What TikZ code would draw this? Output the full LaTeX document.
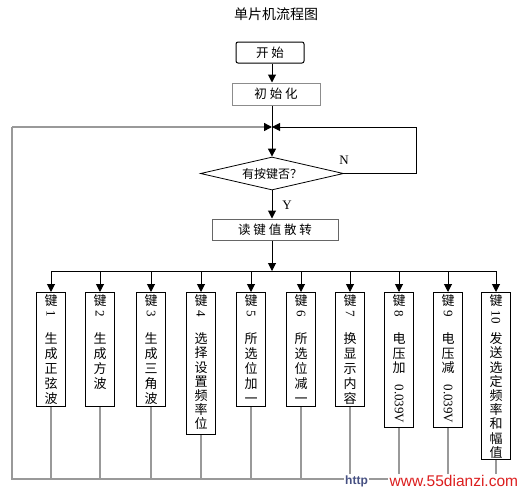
\documentclass[tikz,border=0pt]{standalone}
\usepackage{fontspec}
\usepackage{graphicx}
\setmainfont{Liberation Serif}
\newfontfamily\cjk{Noto Sans CJK SC}
\newfontfamily\wmfont{Liberation Sans}
\usetikzlibrary{arrows.meta,shapes.geometric}
\newcommand\rd[1]{\raisebox{7pt}{\rotatebox{-90}{\rmfamily\fontsize{13}{13}\selectfont #1}}}
\begin{document}
\lineskiplimit=-100pt
\begin{tikzpicture}[x=1pt,y=-1pt,
  ln/.style={line width=1pt, draw=black},
  gl/.style={line width=1.5pt, draw=black!40},
  arr/.style={-{Triangle[width=8pt,length=8pt,color=black]}},
  cbox/.style={draw, line width=1pt, inner sep=0pt, font=\cjk\fontsize{12.5}{12.5}\selectfont},
  kbox/.style={draw, line width=1pt, inner sep=0pt, minimum width=29pt},
  ktext/.style={anchor=north, inner sep=0pt, align=center},
  kf15/.style={font=\cjk\fontsize{13}{15}\selectfont},
  kf145/.style={font=\cjk\fontsize{13}{14.5}\selectfont},
  kf142/.style={font=\cjk\fontsize{13}{14.2}\selectfont},
  lab/.style={font=\rmfamily\fontsize{13}{13}\selectfont, inner sep=0pt}]
\useasboundingbox (0,0) rectangle (524,496);

\node[font=\cjk\fontsize{14}{14}\selectfont] (title) at (276,14) {单片机流程图};
\node[cbox, rounded corners=2pt, minimum width=68pt, minimum height=21pt] (start) at (270,52.5) {开\ 始};
\node[cbox, draw=black!45, minimum width=88pt, minimum height=22pt] (init) at (276,94) {初\ 始\ 化};
\coordinate (j) at (272,127);
\node[draw, line width=0.8pt, shape=diamond, aspect=4.3, minimum width=143pt, minimum height=33pt, inner sep=0pt,
      font=\cjk\fontsize{12}{12}\selectfont] (dec) at (272,173.5) {有按键否？};
\node[cbox, draw=black!60, minimum width=126pt, minimum height=21pt] (read) at (275,229.5) {读\ 键\ 值\ 散\ 转};
\coordinate (bm) at (272,271);
\coordinate (rc) at (416,127);
\coordinate (rd) at (416,173.5);
\coordinate (lc) at (12,127);
\coordinate (lb) at (12,479);

\node[lab] (N) at (344,160) {N};
\node[lab] (Y) at (287,205) {Y};

% main flow
\draw[ln,arr] (start.south -| 272,0) -- (init.north -| 272,0);
\draw[ln] (init.south -| 272,0) -- (j);
\draw[ln,arr] (j) -- (dec.north);
\draw[ln,arr] (dec.south) -- (read.north -| dec.south);
\draw[ln,arr] (read.south -| 272,0) -- (bm);
% N loop
\draw[ln] (dec.east) -- (rd) -- (rc);
\draw[ln,arr] (rc) -- (j);

% keys
\foreach \i/\x/\h/\kf/\txt in {
  1/51/114/kf15/{键\\[-3pt]\rd{1}\\[11pt]生\\成\\正\\弦\\波},
  2/100/114/kf15/{键\\[-3pt]\rd{2}\\[11pt]生\\成\\方\\波},
  3/151/114/kf15/{键\\[-3pt]\rd{3}\\[11pt]生\\成\\三\\角\\波},
  4/201/142/kf142/{键\\[-2.2pt]\rd{4}\\[11.8pt]选\\择\\设\\置\\频\\率\\位},
  5/251/114/kf15/{键\\[-3pt]\rd{5}\\[11pt]所\\选\\位\\加\\一},
  6/301/114/kf15/{键\\[-3pt]\rd{6}\\[11pt]所\\选\\位\\减\\一},
  7/350/114/kf15/{键\\[-3pt]\rd{7}\\[11pt]换\\显\\示\\内\\容},
  8/399/135/kf145/{键\\[-2.5pt]\rd{8}\\[11.5pt]电\\压\\加\\[4.5pt]\rd{0.039V}},
  9/448/135/kf145/{键\\[-2.5pt]\rd{9}\\[11.5pt]电\\压\\减\\[4.5pt]\rd{0.039V}},
  10/496/167/kf142/{键\\[-2.2pt]\rd{10}\\[11.8pt]发\\送\\选\\定\\频\\率\\和\\幅\\值}}{
  \node[kbox, minimum height=\h pt, anchor=north] (k\i) at (\x,292) {};
  \node[ktext, \kf] (t\i) at ([yshift=-2.5pt]k\i.north) {\txt};
  \coordinate (b\i) at (\x,271);
  \coordinate (e\i) at (\x,479);
  \draw[ln,arr] (b\i) -- (k\i.north);
  \draw[gl] (k\i.south) -- (e\i);
}
\draw[ln] (b1) -- (b10);

% return path
\draw[gl] (e10) -- (lb) -- (lc);
\draw[gl,arr] (lc) -- (j);

% watermark
\node[fill=white, inner sep=1pt, anchor=west, text={rgb,255:red,70;green,80;blue,130},
      font=\wmfont\bfseries\fontsize{12}{12}\selectfont] (http) at (344,481) {http};
\node[fill=white, inner sep=1.5pt, anchor=west, text={rgb,255:red,220;green,30;blue,30},
      font=\wmfont\fontsize{15.5}{15.5}\selectfont] (wm) at (388,481) {www.55dianzi.com};
\end{tikzpicture}
\end{document}
